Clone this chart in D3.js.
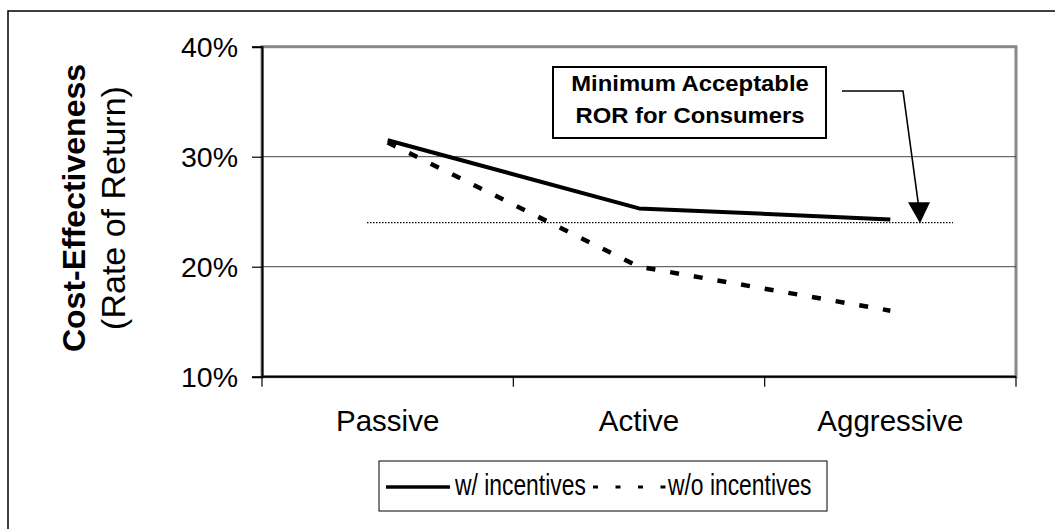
<!DOCTYPE html>
<html>
<head>
<meta charset="utf-8">
<script src="https://cdn.jsdelivr.net/npm/d3@7"></script>
<style>
  html, body { margin: 0; padding: 0; background: #fff; }
  svg { display: block; }
  text { font-family: "Liberation Sans", Arial, sans-serif; fill: #000; }
</style>
</head>
<body>
<svg id="chart" width="1055" height="529"></svg>
<script>
// Strategy levels along the x axis
const categories = ["Passive", "Active", "Aggressive"];
// Rate of return for each strategy
const withIncentives = [0.315, 0.253, 0.243];
const withoutIncentives = [0.313, 0.200, 0.160];
// Minimum acceptable rate of return for consumers
const minAcceptable = 0.24;
// Y axis ticks
const yTicks = [0.10, 0.20, 0.30, 0.40];
const seriesNames = ["w/ incentives", "w/o incentives"];
const noteLines = ["Minimum Acceptable", "ROR for Consumers"];

const svg = d3.select("#chart");
const plot = { left: 262, right: 1016, top: 46.7, bottom: 376.7 };

const x = d3.scaleBand().domain(categories).range([plot.left, plot.right]);
const y = d3.scaleLinear().domain([0.10, 0.40]).range([plot.bottom, plot.top]);
const xc = d => x(d) + x.bandwidth() / 2;

// Outer chart frame
svg.append("rect")
  .attr("x", 8).attr("y", 11).attr("width", 1200).attr("height", 700)
  .attr("fill", "none").attr("stroke", "#000").attr("stroke-width", 1.5);

// Plot area border
svg.append("rect")
  .attr("x", plot.left).attr("y", plot.top)
  .attr("width", plot.right - plot.left).attr("height", plot.bottom - plot.top)
  .attr("fill", "none").attr("stroke", "#888").attr("stroke-width", 3);

// Gridlines
svg.append("g")
  .selectAll("line")
  .data(yTicks.filter(t => t > 0.10 && t < 0.40))
  .join("line")
  .attr("x1", plot.left).attr("x2", plot.right)
  .attr("y1", d => y(d)).attr("y2", d => y(d))
  .attr("stroke", "#444").attr("stroke-width", 1);

// Y axis
const yAxis = svg.append("g")
  .attr("transform", `translate(${plot.left},0)`)
  .call(d3.axisLeft(y).tickValues(yTicks).tickFormat(d3.format(".0%")).tickSize(10).tickPadding(14));
yAxis.select(".domain").attr("stroke", "#000").attr("stroke-width", 2);
yAxis.selectAll(".tick line").attr("stroke", "#000").attr("stroke-width", 1.2);
yAxis.selectAll(".tick text")
  .attr("font-size", 28.5).attr("dy", "0.36em")
  .style("font-family", '"Liberation Sans", Arial, sans-serif');

// X axis: tick marks between categories, labels centred in each band
const xBounds = categories.map(c => x(c)).concat([plot.right]);
const xAxis = svg.append("g");
xAxis.append("line")
  .attr("x1", plot.left).attr("x2", plot.right)
  .attr("y1", plot.bottom).attr("y2", plot.bottom)
  .attr("stroke", "#000").attr("stroke-width", 2);
xAxis.selectAll("line.tk")
  .data(xBounds)
  .join("line").attr("class", "tk")
  .attr("x1", d => d).attr("x2", d => d)
  .attr("y1", plot.bottom).attr("y2", plot.bottom + 10)
  .attr("stroke", "#000").attr("stroke-width", 1.2);
xAxis.selectAll("text")
  .data(categories)
  .join("text")
  .attr("x", d => xc(d)).attr("y", 431)
  .attr("text-anchor", "middle")
  .attr("font-size", 29.5)
  .text(d => d);

// Minimum acceptable threshold
svg.append("line")
  .attr("x1", 367).attr("x2", 953)
  .attr("y1", y(minAcceptable)).attr("y2", y(minAcceptable))
  .attr("stroke", "#000").attr("stroke-width", 1.3)
  .attr("stroke-dasharray", "1.5,1.5");

// Series lines
const line = d3.line().x((d, i) => xc(categories[i])).y(d => y(d));
svg.append("path")
  .datum(withIncentives)
  .attr("d", line)
  .attr("fill", "none").attr("stroke", "#000").attr("stroke-width", 4)
  .attr("stroke-linejoin", "round");
svg.append("path")
  .datum(withoutIncentives)
  .attr("d", line)
  .attr("fill", "none").attr("stroke", "#000").attr("stroke-width", 4.5)
  .attr("stroke-dasharray", "9,15");

// Callout box
const note = svg.append("g");
note.append("rect")
  .attr("x", 553).attr("y", 67).attr("width", 273).attr("height", 71)
  .attr("fill", "#fff").attr("stroke", "#000").attr("stroke-width", 2);
note.selectAll("text")
  .data(noteLines)
  .join("text")
  .attr("transform", (d, i) => `translate(690,${91 + i * 32}) scale(1.06,1)`)
  .attr("text-anchor", "middle")
  .attr("font-size", 22.5).attr("font-weight", "bold")
  .text(d => d);

// Callout arrow pointing at the threshold line
const tip = [920, y(minAcceptable) + 0.5];
svg.append("polyline")
  .attr("points", `842,91 903,91 ${tip[0] - 1.5},${tip[1] - 18}`)
  .attr("fill", "none").attr("stroke", "#000").attr("stroke-width", 1.6);
svg.append("path")
  .attr("d", `M${tip[0]},${tip[1]} L${tip[0] - 12},${tip[1] - 21} L${tip[0] + 10},${tip[1] - 21} Z`)
  .attr("fill", "#000");

// Y axis title
const yTitle = svg.append("g");
yTitle.append("text")
  .attr("transform", "translate(85,208) rotate(-90)")
  .attr("text-anchor", "middle")
  .attr("font-size", 32).attr("font-weight", "bold")
  .text("Cost-Effectiveness");
yTitle.append("text")
  .attr("transform", "translate(125,208) rotate(-90)")
  .attr("text-anchor", "middle")
  .attr("font-size", 34)
  .text("(Rate of Return)");

// Legend (condensed type)
const legend = svg.append("g");
legend.append("rect")
  .attr("x", 379).attr("y", 461).attr("width", 448).attr("height", 50)
  .attr("fill", "#fff").attr("stroke", "#000").attr("stroke-width", 1);
const legendItems = [
  { name: seriesNames[0], x0: 386, x1: 450, tx: 455, dash: null, w: 3.5 },
  { name: seriesNames[1], x0: 593, x1: 666, tx: 668, dash: "5,17.5", w: 3 }
];
legendItems.forEach(it => {
  legend.append("line")
    .attr("x1", it.x0).attr("x2", it.x1).attr("y1", 487).attr("y2", 487)
    .attr("stroke", "#000").attr("stroke-width", it.w)
    .attr("stroke-dasharray", it.dash);
  legend.append("text")
    .attr("transform", `translate(${it.tx},495) scale(0.775,1)`)
    .attr("font-size", 29.5)
    .text(it.name);
});
</script>
</body>
</html>
